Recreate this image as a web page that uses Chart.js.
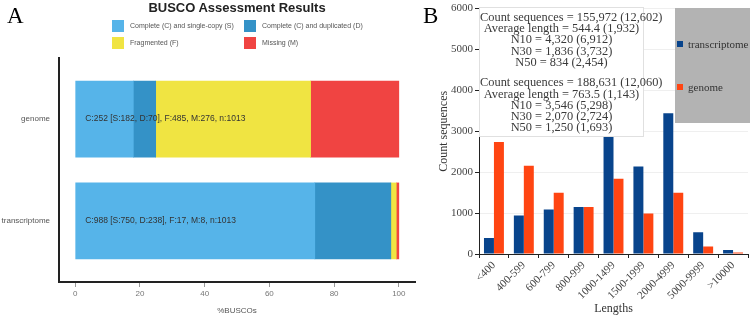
<!DOCTYPE html>
<html>
<head>
<meta charset="utf-8">
<script src="https://cdn.jsdelivr.net/npm/chart.js@4.4.0/dist/chart.umd.min.js"></script>
<style>
  body { margin: 0; background: #fff; }
  #page { position: relative; width: 750px; height: 315px; overflow: hidden; background: #fff; }
  .panel-tag { position: absolute; font-family: "Liberation Serif", "Times New Roman", serif; font-size: 23px; color: #000; line-height: 1; }
  #titleA { position: absolute; left: 0; width: 474px; top: 0; text-align: center; font: bold 13px "Liberation Sans", Arial, sans-serif; color: #222; }
  .legA { position: absolute; font: 7px "Liberation Sans", Arial, sans-serif; color: #555; line-height: 12px; white-space: nowrap; }
  .legA i { display: inline-block; width: 12px; height: 12px; vertical-align: top; margin-right: 6px; }
  #stats { position: absolute; left: 479px; top: 7px; width: 163px; height: 124px; background: #fff; border: 1px solid #e0e0e0;
           font: 12.4px "Liberation Serif", "Times New Roman", serif; color: #3a3a3a; text-align: center; line-height: 11.2px; padding-top: 4px; white-space: nowrap; }
  #stats .gap { height: 9.4px; }
  #legB { position: absolute; left: 675px; top: 8px; width: 75px; height: 115px; background: #b3b3b3; }
  .legB { position: absolute; left: 2px; font: 11px "Liberation Serif", "Times New Roman", serif; color: #333; white-space: nowrap; line-height: 12px; }
  .legB i { display: inline-block; width: 6px; height: 6px; margin: 3px 5px 0 0; vertical-align: top; }
</style>
</head>
<body>
<div id="page">
  <canvas id="busco" width="420" height="315" style="position:absolute;left:0;top:0"></canvas>
  <canvas id="lengths" width="330" height="315" style="position:absolute;left:420px;top:0"></canvas>
  <div class="panel-tag" style="left:7px;top:4px">A</div>
  <div class="panel-tag" style="left:423px;top:4px">B</div>
  <div id="titleA">BUSCO Assessment Results</div>
  <div id="legendA"></div>
  <div id="stats"></div>
  <div id="legB"></div>
</div>
<script>
// Panel A: BUSCO counts
const buscoSets = ['genome', 'transcriptome'];
const single = [182, 750];
const duplicated = [70, 238];
const fragmented = [485, 17];
const missing = [276, 8];
const total = [1013, 1013];
const buscoClasses = ['Complete (C) and single-copy (S)', 'Complete (C) and duplicated (D)', 'Fragmented (F)', 'Missing (M)'];
const buscoColors = ['#56B4E9', '#3492C7', '#F0E442', '#F04442'];
const pctTicks = [0, 20, 40, 60, 80, 100];

// Panel B: length distribution
const lengthBins = ['<400', '400-599', '600-799', '800-999', '1000-1499', '1500-1999', '2000-4999', '5000-9999', '>10000'];
const transcriptome = [390, 940, 1090, 1150, 2880, 2140, 3440, 530, 95];
const genome = [2740, 2160, 1500, 1150, 1840, 990, 1500, 185, 35];
const seriesNames = ['transcriptome', 'genome'];
const seriesColors = ['#08448C', '#FF4512'];
const statsTranscriptome = ['Count sequences = 155,972 (12,602)', 'Average length = 544.4 (1,932)', 'N10 = 4,320 (6,912)', 'N30 = 1,836 (3,732)', 'N50 = 834 (2,454)'];
const statsGenome = ['Count sequences = 188,631 (12,060)', 'Average length = 763.5 (1,143)', 'N10 = 3,546 (5,298)', 'N30 = 2,070 (2,724)', 'N50 = 1,250 (1,693)'];

// html legend for A
const legendA = document.getElementById('legendA');
const legPos = [[112, 20], [244, 20], [112, 37], [244, 37]];
buscoClasses.forEach((name, i) => {
  const d = document.createElement('div');
  d.className = 'legA';
  d.style.left = legPos[i][0] + 'px';
  d.style.top = legPos[i][1] + 'px';
  d.innerHTML = `<i style="background:${buscoColors[i]}"></i>${name}`;
  legendA.appendChild(d);
});

// stats box and legend for B
const stats = document.getElementById('stats');
stats.innerHTML = statsTranscriptome.map(s => `<div>${s}</div>`).join('') + '<div class="gap"></div>' + statsGenome.map(s => `<div>${s}</div>`).join('');
const legB = document.getElementById('legB');
seriesNames.forEach((name, i) => {
  const d = document.createElement('div');
  d.className = 'legB';
  d.style.top = (30 + i * 43) + 'px';
  d.innerHTML = `<i style="background:${seriesColors[i]}"></i>${name}`;
  legB.appendChild(d);
});

const sans = '"Liberation Sans", Arial, sans-serif';
const serif = '"Liberation Serif", "Times New Roman", serif';

const pct = (arr) => arr.map((v, i) => ({ x: v / total[i] * 100, y: i + 1 }));

const buscoText = {
  id: 'buscoText',
  afterDatasetsDraw(chart) {
    const { ctx, scales: { x, y } } = chart;
    ctx.save();
    ctx.font = '8.5px ' + sans;
    ctx.fillStyle = '#333';
    ctx.textBaseline = 'middle';
    buscoSets.forEach((s, i) => {
      const txt = `C:${single[i] + duplicated[i]} [S:${single[i]}, D:${duplicated[i]}], F:${fragmented[i]}, M:${missing[i]}, n:${total[i]}`;
      ctx.fillText(txt, x.getPixelForValue(0) + 10, y.getPixelForValue(i + 1));
    });
    ctx.restore();
  }
};

new Chart(document.getElementById('busco'), {
  type: 'bar',
  data: {
    datasets: [single, duplicated, fragmented, missing].map((arr, k) => ({
      label: buscoClasses[k],
      data: pct(arr),
      backgroundColor: buscoColors[k],
      stack: 'busco',
      barThickness: 76
    }))
  },
  options: {
    indexAxis: 'y',
    responsive: false,
    animation: false,
    layout: { padding: { top: 58, right: 5, left: 0, bottom: 0 } },
    plugins: { legend: { display: false }, tooltip: { enabled: false } },
    scales: {
      x: {
        type: 'linear', stacked: true, min: -5, max: 105,
        afterBuildTicks: (s) => { s.ticks = pctTicks.map(v => ({ value: v })); },
        afterFit: (s) => { s.height = 33; },
        grid: { drawOnChartArea: false, drawTicks: true, tickLength: 5, color: '#999' },
        border: { display: true, color: '#222', width: 2 },
        ticks: { font: { family: sans, size: 8 }, color: '#777', padding: 2, maxRotation: 0 },
        title: { display: true, text: '%BUSCOs', font: { family: sans, size: 8, lineHeight: 1 }, color: '#555', padding: { top: 0, bottom: 0 } }
      },
      y: {
        type: 'linear', min: 0.4, max: 2.6, reverse: true, offset: false, grace: 0,
        afterBuildTicks: (s) => { s.ticks = buscoSets.map((n, i) => ({ value: i + 1 })); },
        afterFit: (s) => { s.width = 59; },
        grid: { drawOnChartArea: false, drawTicks: false, offset: false },
        border: { display: true, color: '#222', width: 2 },
        ticks: { font: { family: sans, size: 8 }, color: '#555', padding: 9, callback: (v) => buscoSets[v - 1] }
      }
    }
  },
  plugins: [buscoText]
});

new Chart(document.getElementById('lengths'), {
  type: 'bar',
  data: {
    labels: lengthBins,
    datasets: [transcriptome, genome].map((arr, k) => ({
      label: seriesNames[k],
      data: arr,
      backgroundColor: seriesColors[k],
      barPercentage: 1,
      categoryPercentage: 0.667
    }))
  },
  options: {
    responsive: false,
    animation: false,
    layout: { padding: { top: 8, right: 2, left: 0, bottom: 0 } },
    plugins: { legend: { display: false }, tooltip: { enabled: false } },
    scales: {
      x: {
        afterFit: (s) => { s.height = 61; },
        grid: { drawOnChartArea: false, drawTicks: true, tickLength: 4, color: '#222', offset: true },
        border: { display: true, color: '#222', width: 1 },
        ticks: { font: { family: serif, size: 11 }, color: '#444', minRotation: 45, maxRotation: 45, autoSkip: false, padding: 1 },
        title: { display: true, text: 'Lengths', font: { family: serif, size: 12, lineHeight: 1 }, color: '#333', padding: { top: 0, bottom: 0 } }
      },
      y: {
        min: 0, max: 6000,
        afterFit: (s) => { s.width = 59; },
        grid: { color: '#efefef', tickColor: '#222', tickLength: 4, drawTicks: true },
        border: { display: true, color: '#222', width: 1 },
        ticks: { stepSize: 1000, font: { family: serif, size: 11 }, color: '#444', padding: 2, callback: (v) => String(v) },
        title: { display: true, text: 'Count sequences', font: { family: serif, size: 12, lineHeight: 1 }, color: '#333', padding: { top: 18, bottom: 0 } }
      }
    }
  }
});
</script>
</body>
</html>
